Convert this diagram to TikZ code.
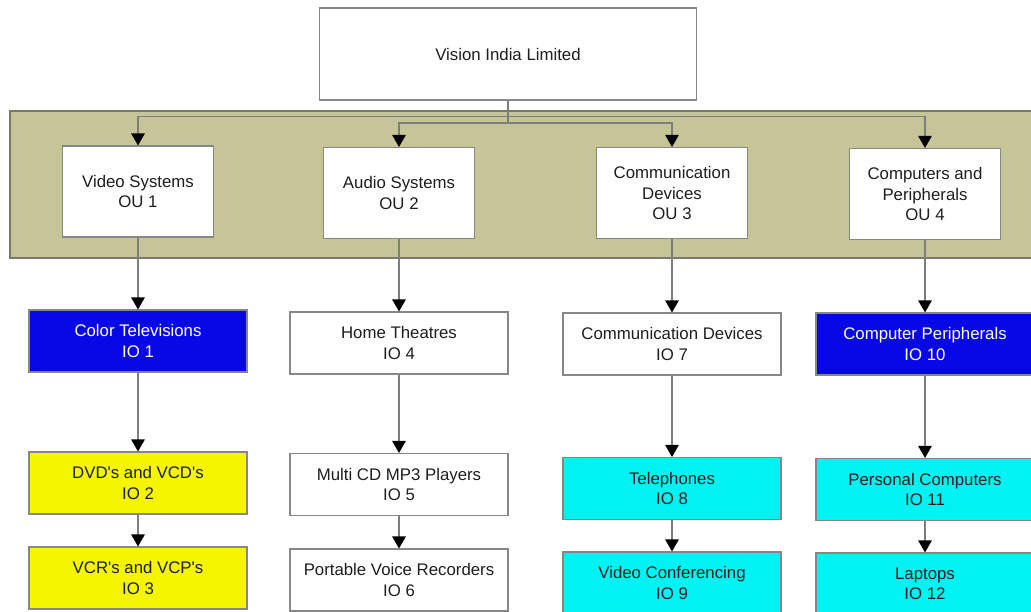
\documentclass[tikz,border=0pt]{standalone}
\usepackage{fontspec}
\setmainfont{Liberation Sans}
\usetikzlibrary{arrows.meta}

\definecolor{bandfill}{RGB}{198,197,151}
\definecolor{bandline}{RGB}{120,120,110}
\definecolor{boxline}{RGB}{135,135,135}
\definecolor{wireline}{RGB}{125,125,125}
\definecolor{inkc}{RGB}{30,30,30}
\definecolor{deepblue}{RGB}{8,8,230}
\definecolor{lemon}{RGB}{245,245,0}
\definecolor{aqua}{RGB}{0,242,242}

\begin{document}
\begin{tikzpicture}[x=1pt,y=-1pt,
  label text/.style={font=\fontsize{16.8}{20.5}\selectfont, text=inkc, align=center},
  unitbox/.style={draw=boxline, line width=1.1pt, fill=white, inner sep=0pt, label text},
  topbox/.style={unitbox, minimum width=377pt, minimum height=92pt},
  oubox/.style={unitbox, minimum width=151pt, minimum height=91pt},
  iobox/.style={unitbox, minimum width=218pt, minimum height=62pt},
  bluebox/.style={iobox, fill=deepblue, text=white},
  yellowbox/.style={iobox, fill=lemon},
  cyanbox/.style={iobox, fill=aqua},
  wire/.style={draw=wireline, line width=1.2pt},
  arrowwire/.style={wire, -{Triangle[width=13.5pt,length=12pt,color=black]}}
]
\clip (0,0) rectangle (1031,611);
\fill[white] (0,0) rectangle (1031,611);

% band holding the operating units
\draw[fill=bandfill, draw=bandline, line width=1.4pt] (10,111) rectangle (1045,258);

% head office
\node[topbox] (top) at (508,54) {Vision India Limited};

% operating units
\node[oubox] (ou1) at (138,191.5) {Video Systems\\OU 1};
\node[oubox] (ou2) at (399,193) {Audio Systems\\OU 2};
\node[oubox] (ou3) at (672,193) {Communication\\Devices\\OU 3};
\node[oubox] (ou4) at (925,194) {Computers and\\Peripherals\\OU 4};

% internal operations, column 1
\node[bluebox]   (io1) at (138,341) {Color Televisions\\IO 1};
\node[yellowbox] (io2) at (138,483) {DVD\textquotesingle s and VCD\textquotesingle s\\IO 2};
\node[yellowbox] (io3) at (138,578) {VCR\textquotesingle s and VCP\textquotesingle s\\IO 3};

% column 2
\node[iobox] (io4) at (399,343) {Home Theatres\\IO 4};
\node[iobox] (io5) at (399,484.5) {Multi CD MP3 Players\\IO 5};
\node[iobox] (io6) at (399,580) {Portable Voice Recorders\\IO 6};

% column 3
\node[iobox]   (io7) at (672,344) {Communication Devices\\IO 7};
\node[cyanbox] (io8) at (672,488.5) {Telephones\\IO 8};
\node[cyanbox] (io9) at (672,583) {Video Conferencing\\IO 9};

% column 4
\node[bluebox] (io10) at (925,344) {Computer Peripherals\\IO 10};
\node[cyanbox] (io11) at (925,489.5) {Personal Computers\\IO 11};
\node[cyanbox] (io12) at (925,584) {Laptops\\IO 12};

% distribution from the head office
\coordinate (busA) at (508,116.5);
\coordinate (busB) at (508,123);
\draw[wire] (top.south) -- (busB);
\draw[arrowwire] (busA) -| (ou1.north);
\draw[arrowwire] (busA) -| (ou4.north);
\draw[arrowwire] (busB) -| (ou2.north);
\draw[arrowwire] (busB) -| (ou3.north);

% chains down each column
\foreach \a/\b in {ou1/io1, io1/io2, io2/io3,
                   ou2/io4, io4/io5, io5/io6,
                   ou3/io7, io7/io8, io8/io9,
                   ou4/io10, io10/io11, io11/io12}
  \draw[arrowwire] (\a.south) -- (\b.north);
\end{tikzpicture}
\end{document}
